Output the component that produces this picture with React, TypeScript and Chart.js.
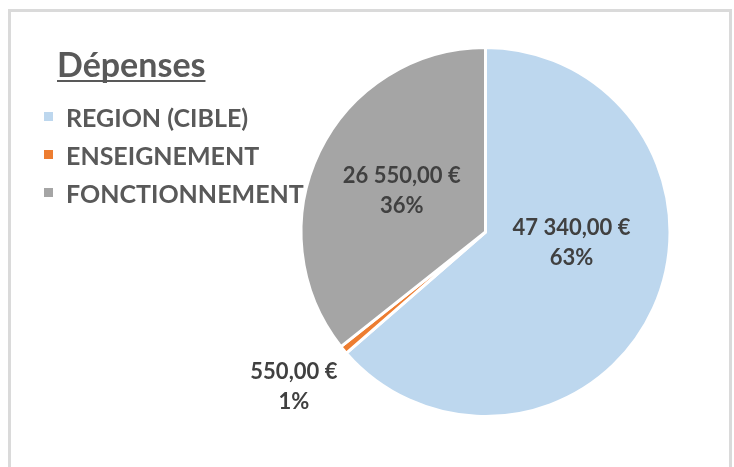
import React, { useEffect, useRef } from "react";
import { Chart, registerables } from "chart.js";

Chart.register(...registerables);

const categories = ["REGION (CIBLE)", "ENSEIGNEMENT", "FONCTIONNEMENT"];
const values = [47340, 550, 26550];
const percentLabels = ["63%", "1%", "36%"];
const colors = ["#BDD7EE", "#ED7D31", "#A5A5A5"];
const legendTitle = "Dépenses";

// label placement (style): angle tweak in degrees and radius factor
const labelPlacement = [
  { dA: -17, r: 0.47 },
  { dA: 0.7, r: 1.337 },
  { dA: 0.4, r: 0.506 },
];

function formatEuro(v: number): string {
  const [intPart, dec] = v.toFixed(2).split(".");
  const withSep = intPart.replace(/\B(?=(\d{3})+(?!\d))/g, " ");
  return withSep + "," + dec + " €";
}

const FONT = "Lato, 'Open Sans', sans-serif";

const framePlugin = {
  id: "frame",
  beforeDraw(chart: any) {
    const ctx = chart.ctx;
    ctx.save();
    ctx.fillStyle = "#ffffff";
    ctx.fillRect(0, 0, chart.width, chart.height);
    ctx.fillStyle = "#dadada";
    ctx.fillRect(8, 9, 724, 3);
    ctx.fillRect(8, 9, 3, chart.height - 9);
    ctx.fillRect(729, 9, 3, chart.height - 9);
    ctx.restore();
  },
};

const legendPlugin = {
  id: "customLegend",
  afterDraw(chart: any) {
    const ctx = chart.ctx;
    ctx.save();
    ctx.fillStyle = "#595959";
    ctx.textBaseline = "alphabetic";
    ctx.textAlign = "left";
    ctx.font = "bold 34px " + FONT;
    ctx.fillText(legendTitle, 57, 77);
    const w = ctx.measureText(legendTitle).width;
    ctx.fillRect(57, 80, w, 2);
    const labels = chart.data.labels as string[];
    const bg = chart.data.datasets[0].backgroundColor as string[];
    ctx.font = "bold 25px " + FONT;
    labels.forEach((lab, i) => {
      const base = 127 + i * 38;
      ctx.fillStyle = bg[i];
      ctx.fillRect(44, base - 15, 9, 9);
      ctx.fillStyle = "#595959";
      ctx.fillText(lab, 66, base);
    });
    ctx.restore();
  },
};

const dataLabelPlugin = {
  id: "dataLabels",
  afterDatasetsDraw(chart: any) {
    const ctx = chart.ctx;
    const meta = chart.getDatasetMeta(0);
    const data = chart.data.datasets[0].data as number[];
    ctx.save();
    ctx.fillStyle = "#404040";
    ctx.textAlign = "center";
    ctx.textBaseline = "middle";
    ctx.font = "bold 22px " + FONT;
    meta.data.forEach((arc: any, i: number) => {
      const p = arc.getProps(["x", "y", "startAngle", "endAngle", "outerRadius"], true);
      const mid = (p.startAngle + p.endAngle) / 2 + (labelPlacement[i].dA * Math.PI) / 180;
      const r = p.outerRadius * labelPlacement[i].r;
      const cx = p.x + Math.cos(mid) * r;
      const cy = p.y + Math.sin(mid) * r;
      ctx.fillText(formatEuro(data[i]), cx, cy - 15);
      ctx.fillText(percentLabels[i], cx, cy + 15);
    });
    ctx.restore();
  },
};

export default function App() {
  const ref = useRef<HTMLCanvasElement>(null);
  useEffect(() => {
    if (!ref.current) return;
    const chart = new Chart(ref.current, {
      type: "pie",
      data: {
        labels: categories,
        datasets: [
          {
            data: values,
            backgroundColor: colors,
            borderColor: "#ffffff",
            borderWidth: 3,
          },
        ],
      },
      options: {
        animation: false,
        responsive: false,
        events: [],
        layout: { padding: { top: 46, bottom: 49, left: 299.5, right: 62.5 } },
        plugins: {
          legend: { display: false },
          tooltip: { enabled: false },
          title: { display: false },
        },
      },
      plugins: [framePlugin, legendPlugin, dataLabelPlugin],
    });
    return () => chart.destroy();
  }, []);
  return (
    <div style={{ position: "absolute", left: 0, top: 0, width: 734, height: 467, background: "#fff" }}>
      <canvas ref={ref} width={734} height={467} style={{ width: 734, height: 467, display: "block" }} />
    </div>
  );
}
